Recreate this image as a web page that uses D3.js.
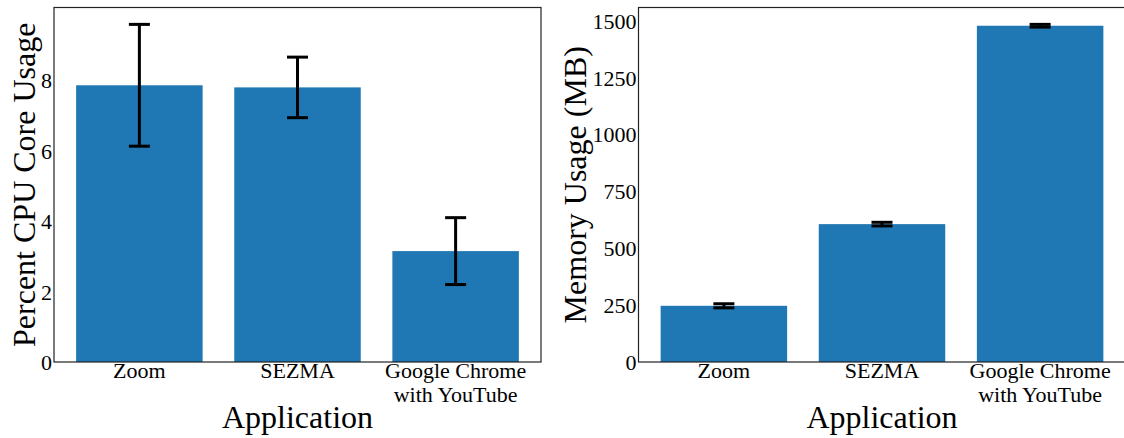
<!DOCTYPE html>
<html>
<head>
<meta charset="utf-8">
<script src="https://cdn.jsdelivr.net/npm/d3@7"></script>
<style>
  body { margin: 0; background: #fff; }
  text { font-family: "Liberation Serif", "DejaVu Serif", serif; fill: #000; }
</style>
</head>
<body>
<div id="container"></div>
<script>
// Data
const apps = ["Zoom", "SEZMA", "Google Chrome\nwith YouTube"];
const cpuMean = [7.86, 7.80, 3.15];
const cpuErr = [1.73, 0.86, 0.95];
const memMean = [247, 606, 1478];
const memErr = [9, 8, 6];
const cpuTicks = [0, 2, 4, 6, 8];
const memTicks = [0, 250, 500, 750, 1000, 1250, 1500];

const width = 1124;
const height = 438;

const svg = d3.select("#container")
  .append("svg")
  .attr("width", width)
  .attr("height", height);

function drawPanel(opts) {
  const left = opts.left, right = opts.left + 487;
  const top = 7.5, bottom = 362;

  // matplotlib-like x limits: bars at 0,1,2 width 0.8 with 5% margin
  const x = d3.scaleLinear().domain([-0.54, 2.54]).range([left, right]);
  const yMax = d3.max(opts.mean.map((m, i) => m + opts.err[i])) * 1.05;
  const y = d3.scaleLinear().domain([0, yMax]).range([bottom, top]);

  const g = svg.append("g");

  // Bars
  g.selectAll("rect.bar")
    .data(opts.mean)
    .enter()
    .append("rect")
    .attr("class", "bar")
    .attr("x", (d, i) => x(i - 0.4))
    .attr("width", x(0.8) - x(0))
    .attr("y", d => y(d))
    .attr("height", d => y(0) - y(d))
    .attr("fill", "#1f77b4");

  // Error bars
  const eb = g.selectAll("g.err")
    .data(opts.mean)
    .enter()
    .append("g")
    .attr("class", "err")
    .attr("stroke", "#000")
    .attr("stroke-width", 3);
  eb.append("line")
    .attr("x1", (d, i) => x(i)).attr("x2", (d, i) => x(i))
    .attr("y1", (d, i) => y(d - opts.err[i]))
    .attr("y2", (d, i) => y(d + opts.err[i]));
  eb.append("line")
    .attr("x1", (d, i) => x(i) - 10.5).attr("x2", (d, i) => x(i) + 10.5)
    .attr("y1", (d, i) => y(d + opts.err[i]))
    .attr("y2", (d, i) => y(d + opts.err[i]));
  eb.append("line")
    .attr("x1", (d, i) => x(i) - 10.5).attr("x2", (d, i) => x(i) + 10.5)
    .attr("y1", (d, i) => y(d - opts.err[i]))
    .attr("y2", (d, i) => y(d - opts.err[i]));

  // Frame
  g.append("rect")
    .attr("x", left).attr("y", top)
    .attr("width", right - left).attr("height", bottom - top)
    .attr("fill", "none")
    .attr("stroke", "#222")
    .attr("stroke-width", 1.2);

  // Y axis (no tick marks)
  const yAxis = g.append("g")
    .attr("transform", `translate(${left},0)`)
    .call(d3.axisLeft(y).tickValues(opts.ticks).tickSize(0).tickPadding(2).tickFormat(d3.format("d")));
  yAxis.select(".domain").remove();
  yAxis.selectAll("text")
    .style("font-family", "Liberation Serif, serif")
    .style("font-size", "22px")
    .attr("dy", "0.34em");

  // X tick labels, possibly two lines
  const xl = g.selectAll("text.xtick")
    .data(apps)
    .enter()
    .append("text")
    .attr("class", "xtick")
    .attr("text-anchor", "middle")
    .style("font-size", "22px");
  xl.each(function (d, i) {
    const lines = d.split("\n");
    d3.select(this).selectAll("tspan")
      .data(lines)
      .enter()
      .append("tspan")
      .attr("x", x(i))
      .attr("y", (l, j) => 378 + j * 23.5)
      .text(l => l);
  });

  // Axis titles
  g.append("text")
    .attr("x", (left + right) / 2)
    .attr("y", 428)
    .attr("text-anchor", "middle")
    .style("font-size", "32px")
    .text("Application");

  g.append("text")
    .attr("transform", `translate(${opts.labelX},${(top + bottom) / 2}) rotate(-90)`)
    .attr("text-anchor", "middle")
    .style("font-size", "32px")
    .text(opts.ylabel);
}

drawPanel({
  left: 54, mean: cpuMean, err: cpuErr, ticks: cpuTicks,
  ylabel: "Percent CPU Core Usage", labelX: 35
});
drawPanel({
  left: 638.5, mean: memMean, err: memErr, ticks: memTicks,
  ylabel: "Memory Usage (MB)", labelX: 586
});
</script>
</body>
</html>
